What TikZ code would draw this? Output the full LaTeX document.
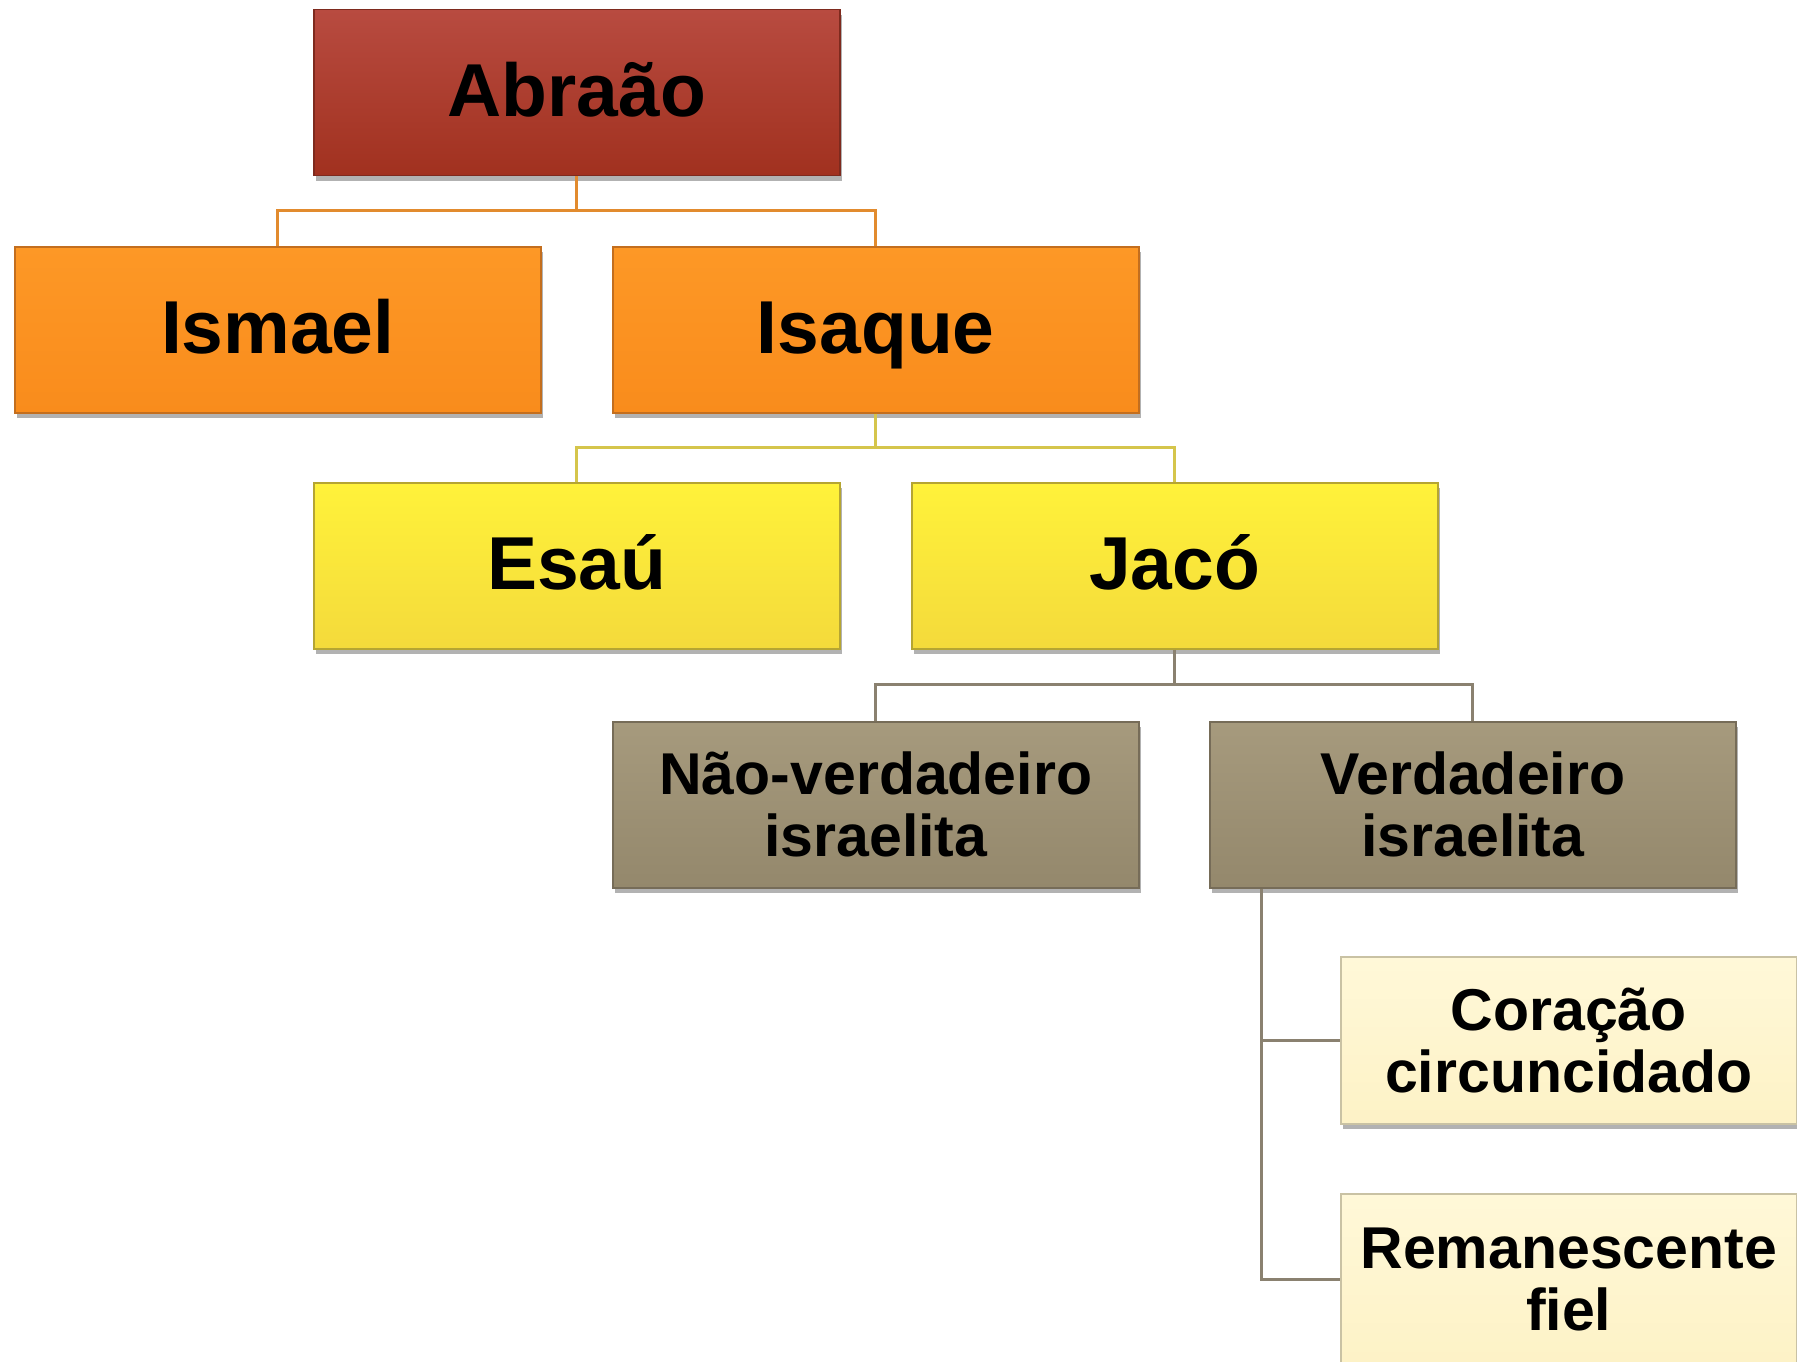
\documentclass[tikz,border=0pt]{standalone}
\usepackage{fontspec}
\setmainfont{Liberation Sans}
\usetikzlibrary{shadows,calc}
\definecolor{abrTop}{HTML}{B84B40}
\definecolor{abrBot}{HTML}{A1311F}
\definecolor{abrBd}{HTML}{7E2A1E}
\definecolor{orTop}{HTML}{FD9826}
\definecolor{orBot}{HTML}{F98C1C}
\definecolor{orBd}{HTML}{C36E1E}
\definecolor{yeTop}{HTML}{FFF23A}
\definecolor{yeBot}{HTML}{F4DA3B}
\definecolor{yeBd}{HTML}{B5A532}
\definecolor{tnTop}{HTML}{A69A7D}
\definecolor{tnBot}{HTML}{94886C}
\definecolor{tnBd}{HTML}{766C58}
\definecolor{lyTop}{HTML}{FFF8D8}
\definecolor{lyBot}{HTML}{FDF2C6}
\definecolor{lyBd}{HTML}{C9C2A4}
\definecolor{lnOr}{HTML}{E28B2E}
\definecolor{lnYe}{HTML}{D5C54C}
\definecolor{lnTn}{HTML}{8A8170}
\begin{document}
\begin{tikzpicture}[x=1pt,y=-1pt,
  box/.style={draw, line width=1.5pt, anchor=north west,
    minimum width=526pt, minimum height=166pt, inner sep=0pt, align=center,
    font=\bfseries\fontsize{75}{75}\selectfont, text=black,
    drop shadow={shadow xshift=2pt, shadow yshift=-5pt, opacity=0.3, fill=black}},
  oneline/.style={text height=54pt, text depth=6pt},
  twoline/.style={font=\bfseries\fontsize{59}{62}\selectfont},
  abrbox/.style={box, oneline, draw=abrBd, top color=abrTop, bottom color=abrBot},
  orbox/.style={box, oneline, draw=orBd, top color=orTop, bottom color=orBot},
  yebox/.style={box, oneline, draw=yeBd, top color=yeTop, bottom color=yeBot},
  tnbox/.style={box, twoline, draw=tnBd, top color=tnTop, bottom color=tnBot},
  lybox/.style={box, twoline, draw=lyBd, top color=lyTop, bottom color=lyBot, minimum width=456pt, minimum height=167pt},
  conn/.style={line width=3pt}
]
\fill[white] (0,0) rectangle (1797,1362);
\useasboundingbox (0,0) rectangle (1797,1362);

\node[abrbox] (abr) at (313,9) {Abraão};
\node[orbox] (ism) at (14,246) {Ismael};
\node[orbox] (isa) at (612,246) {Isaque};
\node[yebox] (esa) at (313,482) {Esaú};
\node[yebox] (jac) at (911,482) {Jacó};
\node[tnbox] (nao) at (612,721) {Não-verdadeiro\\israelita};
\node[tnbox] (ver) at (1209,721) {Verdadeiro\\israelita};
\node[lybox] (cor) at (1340,956) {Coração\\circuncidado};
\node[lybox, minimum height=172pt] (rem) at (1340,1193) {Remanescente\\fiel};

\coordinate (bus1) at (0,210);
\coordinate (bus2) at (0,447);
\coordinate (bus3) at (0,684);
\coordinate (trunk) at ($(ver.south west)+(52,0)$);

\draw[conn, lnOr] (abr.south) -- (abr.south |- bus1) -| (ism.north);
\draw[conn, lnOr] (abr.south |- bus1) -| (isa.north);
\draw[conn, lnYe] (isa.south) -- (isa.south |- bus2) -| (esa.north);
\draw[conn, lnYe] (isa.south |- bus2) -| (jac.north);
\draw[conn, lnTn] (jac.south) -- (jac.south |- bus3) -| (nao.north);
\draw[conn, lnTn] (jac.south |- bus3) -| (ver.north);
\draw[conn, lnTn] (trunk) |- (cor.west);
\draw[conn, lnTn] (trunk) |- (rem.west);
\end{tikzpicture}
\end{document}
